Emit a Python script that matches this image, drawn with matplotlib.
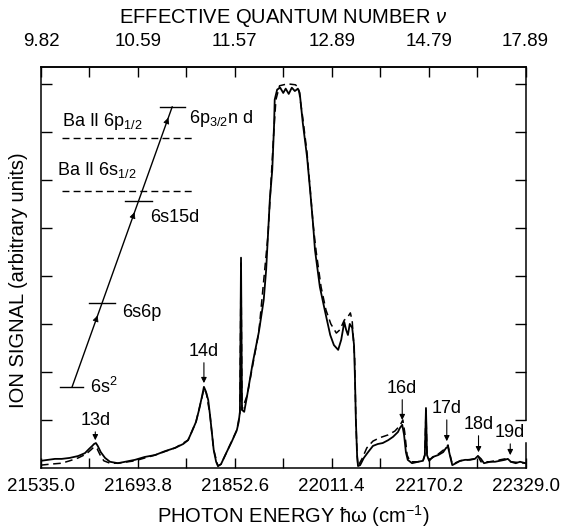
import numpy as np
import matplotlib
matplotlib.use("Agg")
import matplotlib.pyplot as plt
import matplotlib.transforms as mtrans

plt.rcParams['font.family'] = ['Liberation Sans', 'DejaVu Sans']
plt.rcParams['mathtext.fontset'] = 'custom'
plt.rcParams['mathtext.rm'] = 'Liberation Sans'
plt.rcParams['mathtext.it'] = 'Liberation Sans:italic'

# photon energy (cm^-1) / ion signal (arb. units), solid trace
energy_solid = [21535, 21546, 21558, 21569, 21582, 21596, 21607, 21614, 21619, 21622,
                21625, 21628, 21633, 21640, 21648, 21661, 21673, 21689, 21705, 21722,
                21738, 21755, 21768, 21776, 21782, 21789, 21794, 21799, 21802, 21805,
                21809, 21812, 21815, 21818, 21822, 21825, 21830, 21840, 21848, 21856,
                21859, 21861, 21862.8, 21864.4, 21868, 21873, 21882, 21892, 21900, 21904,
                21907, 21910, 21914, 21917, 21918, 21922, 21927, 21932, 21936, 21941,
                21946, 21951, 21956, 21959, 21964, 21971, 21976, 21981, 21984, 21992,
                22000, 22009, 22015, 22022, 22027, 22032, 22035, 22038, 22041, 22045,
                22048, 22049.6, 22051, 22053, 22054.5, 22058, 22064, 22071, 22079, 22087,
                22095, 22104, 22112, 22120, 22123, 22127, 22130, 22133, 22136, 22143,
                22153, 22161, 22164, 22165.9, 22167.6, 22171, 22177, 22186, 22194, 22199,
                22202, 22205, 22209, 22215, 22222, 22230, 22238, 22246, 22251, 22256,
                22261, 22271, 22279, 22287, 22295, 22300, 22305, 22313, 22320, 22329]
signal_solid = [1.5, 1.7, 1.9, 1.9, 2.1, 2.5, 3.1, 4.0, 4.6, 5.0,
                5.2, 4.6, 3.3, 2.1, 1.3, 1.0, 1.3, 1.7, 2.3, 2.7,
                3.5, 4.2, 5.0, 5.8, 7.5, 9.6, 12.1, 15.0, 16.9, 16.0,
                14.2, 11.0, 7.3, 3.8, 1.3, 0.4, 0.8, 3.5, 5.6, 7.9,
                9.6, 11.7, 43.8, 12.1, 11.7, 15.2, 21.9, 28.3, 35.0, 41.3,
                48.5, 55.8, 62.1, 71.5, 76.7, 78.8, 79.2, 78.1, 79.0, 77.9,
                79.2, 78.5, 79.0, 78.1, 71.9, 64.8, 57.9, 50.6, 45.4, 37.7,
                32.9, 27.7, 25.6, 24.6, 26.7, 30.4, 28.8, 27.7, 30.0, 29.2,
                25.6, 18.3, 10.0, 2.7, 0.4, 0.6, 2.1, 3.3, 4.6, 5.0,
                5.2, 5.8, 6.5, 7.5, 8.3, 9.0, 6.9, 3.3, 1.7, 1.0,
                1.3, 1.5, 2.7, 12.5, 2.7, 1.5, 2.3, 2.7, 3.3, 4.2,
                4.4, 2.7, 0.6, 1.0, 1.5, 1.7, 1.7, 1.9, 2.5, 1.9,
                1.0, 1.3, 1.3, 1.5, 1.7, 1.9, 1.3, 1.0, 1.3, 1.0]

# dashed trace
energy_dashed = [21535, 21550, 21569, 21582, 21596, 21609, 21617, 21622, 21627, 21632,
                 21638, 21648, 21661, 21689, 21722, 21755, 21776, 21789, 21799, 21802,
                 21806, 21812, 21818, 21825, 21830, 21840, 21856, 21861, 21862.8, 21864.4,
                 21873, 21892, 21907, 21917, 21920, 21926, 21939, 21952, 21957, 21964,
                 21971, 21976, 21981, 21986, 21994, 22002, 22010, 22019, 22025, 22032,
                 22037, 22042, 22045, 22049, 22051, 22053, 22054.5, 22061, 22069, 22079,
                 22090, 22104, 22115, 22123, 22128, 22131, 22135, 22140, 22153, 22161,
                 22164, 22165.9, 22167.6, 22171, 22186, 22199, 22202, 22205, 22209, 22222,
                 22246, 22251, 22256, 22271, 22295, 22300, 22305, 22329]
signal_dashed = [0.6, 0.8, 1.0, 1.5, 2.1, 2.9, 3.8, 4.4, 4.0, 2.7,
                 1.5, 1.0, 1.0, 1.5, 2.7, 4.2, 5.8, 9.6, 14.8, 16.5,
                 15.6, 11.0, 3.8, 0.4, 0.8, 3.5, 7.9, 11.5, 42.7, 12.1,
                 15.2, 28.3, 48.5, 71.0, 76.7, 79.6, 80.0, 79.8, 79.2, 72.9,
                 65.6, 58.3, 50.6, 45.0, 37.7, 32.9, 30.0, 28.1, 28.8, 30.8,
                 31.3, 32.3, 30.6, 22.9, 10.0, 2.7, 0.4, 1.9, 4.2, 5.6,
                 6.3, 6.9, 7.7, 8.8, 10.0, 7.5, 2.7, 1.3, 1.3, 1.5,
                 2.7, 12.0, 2.7, 1.7, 2.9, 4.2, 4.8, 2.9, 0.8, 1.5,
                 1.9, 2.5, 1.3, 1.3, 1.9, 1.5, 1.3, 1.0]

# axis ticks
energy_ticks = [21535.0, 21693.8, 21852.6, 22011.4, 22170.2, 22329.0]
nu_labels = ['9.82', '10.59', '11.57', '12.89', '14.79', '17.89']

# level scheme: label, left, right, height
levels = [('6s$^2$', 21566, 21604, 16.9),
          ('6s6p', 21614, 21656, 34.4),
          ('6s15d', 21673, 21717, 55.6),
          ('6p$_{3/2}$n d', 21730, 21771, 75.2)]
excite_line = ([21586, 21750], [16.9, 75.2])
arrow_heights = [32.3, 53.8, 73.5]

# peak assignments: label, energy, arrow tail, arrow head
peaks = [('13d', 21624, 8.1, 5.2),
         ('14d', 21802, 22.5, 17.1),
         ('16d', 22127, 14.8, 9.4),
         ('17d', 22200, 10.6, 5.0),
         ('18d', 22252, 7.3, 2.7),
         ('19d', 22304, 5.6, 2.1)]

fig = plt.figure(figsize=(5.63, 5.29), dpi=100)
ax = fig.add_axes([0.0728, 0.1153, 0.8606, 0.758])

ax.plot(energy_dashed, signal_dashed, color='black', lw=1.1, dashes=(5, 3))
ax.plot(energy_solid, signal_solid, color='black', lw=1.3)

ax.set_xlim(21535, 22329)
ax.set_ylim(0, 83.5)

half = (energy_ticks[1] - energy_ticks[0]) / 2
minor = [t + half for t in energy_ticks[:-1]]
ax.set_xticks(energy_ticks)
ax.set_xticklabels(['%.1f' % t for t in energy_ticks], fontsize=13.5)
ax.set_xticks(minor, minor=True)
ax.set_yticks(np.arange(10, 81, 10))
ax.set_yticklabels([])
ax.tick_params(axis='x', which='both', direction='in', length=7, width=1.0, pad=7)
ax.tick_params(axis='y', which='both', direction='in', length=8, width=1.0, right=True)

top = ax.secondary_xaxis('top')
top.set_xticks(energy_ticks)
top.set_xticklabels(nu_labels, fontsize=13.5)
top.set_xticks(minor, minor=True)
top.tick_params(which='both', direction='in', length=7, width=1.0, pad=12)

for s in ax.spines.values():
    s.set_linewidth(1.1)
top.spines['top'].set_linewidth(1.1)
# right frame is broken where the 19d label sits
ax.spines['right'].set_bounds(10, 83.5)
tr = mtrans.blended_transform_factory(ax.transAxes, ax.transData)
ax.plot([1, 1], [0, 5.2], color='black', lw=1.1, transform=tr, clip_on=False)

# level diagram
for name, x0, x1, y in levels:
    ax.plot([x0, x1], [y, y], color='black', lw=1.0)
ax.plot(excite_line[0], excite_line[1], color='black', lw=1.0)
slope = (excite_line[1][1] - excite_line[1][0]) / (excite_line[0][1] - excite_line[0][0])
for ya in arrow_heights:
    xa = excite_line[0][0] + (ya - excite_line[1][0]) / slope
    ax.annotate('', xy=(xa, ya), xytext=(xa - 4, ya - 4 * slope),
                arrowprops=dict(arrowstyle='-|>', color='black', lw=0.6,
                                mutation_scale=9))
ax.text(21615, 15.6, '6s$^2$', fontsize=13, va='baseline')
ax.text(21668, 31.5, '6s6p', fontsize=13, va='baseline')
ax.text(21714, 51.3, '6s15d', fontsize=13, va='baseline')
ax.text(21778, 71.9, '6p$_{3/2}$n d', fontsize=13, va='baseline')

ax.plot([21569, 21784], [68.75, 68.75], color='black', lw=1.0, dashes=(5, 3))
ax.plot([21569, 21787], [57.7, 57.7], color='black', lw=1.0, dashes=(5, 3))
ax.text(21569, 71.3, 'Ba II 6p$_{1/2}$', fontsize=13, va='baseline')
ax.text(21561, 61.0, 'Ba II 6s$_{1/2}$', fontsize=13, va='baseline')

for name, xe, ytail, yhead in peaks:
    ax.text(xe, ytail + 0.8, name, fontsize=13, ha='center', va='baseline')
    ax.annotate('', xy=(xe, yhead), xytext=(xe, ytail),
                arrowprops=dict(arrowstyle='-|>', color='black', lw=0.8,
                                mutation_scale=8))

fig.text(0.503, 0.966, r'EFFECTIVE QUANTUM NUMBER $\nu$', fontsize=14.5,
         ha='center', va='center')
fig.text(0.52, 0.025, 'PHOTON ENERGY ħω (cm$^{-1}$)', fontsize=14.5,
         ha='center', va='center')
fig.text(0.032, 0.47, 'ION SIGNAL (arbitrary units)', fontsize=14.5,
         ha='center', va='center', rotation=90)

fig.savefig('out.png', dpi=100)
